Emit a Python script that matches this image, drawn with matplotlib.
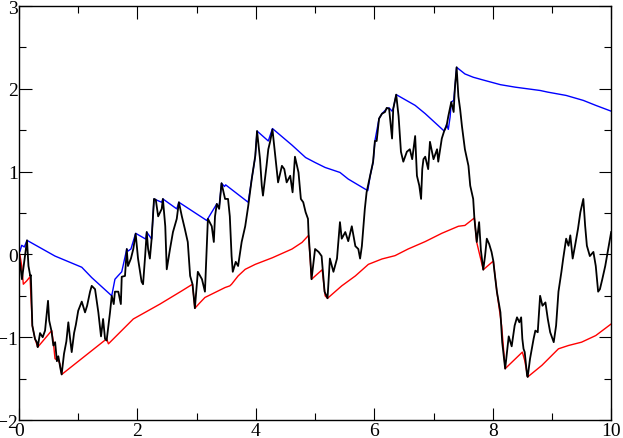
import matplotlib
matplotlib.use("Agg")
import matplotlib.pyplot as plt
from matplotlib.ticker import MultipleLocator

# trajectoire
path_x = [0.00, 0.05, 0.10, 0.135, 0.16, 0.19, 0.20, 0.225, 0.25, 0.27, 0.30, 0.316,
          0.355, 0.40, 0.44, 0.49, 0.51, 0.55, 0.58, 0.61, 0.64, 0.664, 0.70, 0.72,
          0.76, 0.80, 0.833, 0.86, 0.89, 0.93, 0.96, 1.00, 1.06, 1.115, 1.15, 1.20,
          1.228, 1.284, 1.34, 1.385, 1.42, 1.453, 1.48, 1.537, 1.566, 1.60, 1.62, 1.677,
          1.72, 1.735, 1.79, 1.82, 1.84, 1.89, 1.93, 1.97, 2.01, 2.07, 2.095, 2.13,
          2.157, 2.18, 2.21, 2.24, 2.28, 2.31, 2.35, 2.41, 2.43, 2.47, 2.495, 2.55,
          2.60, 2.664, 2.70, 2.75, 2.80, 2.85, 2.89, 2.93, 2.97, 3.02, 3.09, 3.14,
          3.17, 3.19, 3.255, 3.29, 3.31, 3.34, 3.38, 3.42, 3.48, 3.53, 3.56, 3.59,
          3.61, 3.66, 3.70, 3.76, 3.82, 3.87, 3.93, 3.99, 4.02, 4.07, 4.10, 4.12,
          4.18, 4.21, 4.24, 4.28, 4.32, 4.375, 4.44, 4.48, 4.52, 4.58, 4.62, 4.66,
          4.72, 4.76, 4.80, 4.84, 4.88, 4.89, 4.92, 4.94, 5.00, 5.06, 5.11, 5.16,
          5.21, 5.25, 5.31, 5.37, 5.42, 5.45, 5.51, 5.56, 5.62, 5.68, 5.73, 5.76,
          5.79, 5.84, 5.87, 5.93, 5.98, 6.01, 6.04, 6.08, 6.13, 6.18, 6.21, 6.25,
          6.30, 6.32, 6.37, 6.41, 6.45, 6.49, 6.55, 6.60, 6.64, 6.69, 6.72, 6.76,
          6.79, 6.81, 6.83, 6.86, 6.91, 6.94, 7.00, 7.06, 7.08, 7.14, 7.18, 7.22,
          7.25, 7.30, 7.34, 7.36, 7.39, 7.42, 7.45, 7.48, 7.53, 7.59, 7.62, 7.67,
          7.69, 7.73, 7.77, 7.80, 7.84, 7.87, 7.90, 7.94, 7.98, 8.01, 8.03, 8.07,
          8.13, 8.16, 8.21, 8.27, 8.32, 8.37, 8.41, 8.45, 8.48, 8.50, 8.52, 8.54,
          8.58, 8.59, 8.63, 8.69, 8.72, 8.76, 8.80, 8.84, 8.89, 8.93, 8.97, 9.03,
          9.07, 9.11, 9.16, 9.19, 9.24, 9.28, 9.31, 9.35, 9.39, 9.44, 9.48, 9.53,
          9.56, 9.59, 9.64, 9.70, 9.74, 9.78, 9.81, 9.85, 9.90, 9.95, 10.00]
path_y = [0.00, -0.30, -0.02, 0.17, -0.14, -0.26, -0.25, -0.86, -0.95, -1.02, -1.06, -1.12,
          -0.95, -1.00, -0.92, -0.56, -0.80, -0.93, -1.10, -1.06, -1.29, -1.23, -1.38, -1.45,
          -1.20, -1.05, -0.82, -1.00, -1.18, -0.95, -0.85, -0.68, -0.57, -0.70, -0.62, -0.45,
          -0.38, -0.42, -0.70, -0.99, -0.78, -1.02, -1.04, -0.70, -0.50, -0.60, -0.45, -0.45,
          -0.60, -0.27, -0.26, 0.065, -0.14, -0.05, 0.065, 0.25, -0.05, -0.33, -0.36, -0.02,
          0.27, 0.065, -0.05, 0.19, 0.67, 0.66, 0.46, 0.55, 0.67, 0.34, -0.18, 0.065,
          0.27, 0.43, 0.63, 0.46, 0.31, 0.15, -0.26, -0.36, -0.65, -0.21, -0.30, -0.45,
          0.065, 0.43, 0.34, 0.15, 0.46, 0.61, 0.55, 0.86, 0.67, 0.67, 0.46, -0.02,
          -0.21, -0.09, -0.14, 0.15, 0.34, 0.58, 0.91, 1.19, 1.49, 1.15, 0.83, 0.71,
          1.07, 1.27, 1.36, 1.51, 1.24, 0.87, 1.07, 1.03, 0.87, 0.95, 0.75, 1.18,
          0.99, 0.67, 0.63, 0.51, 0.43, 0.25, -0.06, -0.30, 0.065, 0.03, -0.02, -0.45,
          -0.53, -0.05, -0.21, -0.05, 0.39, 0.19, 0.27, 0.16, 0.34, 0.10, 0.065, -0.05,
          0.10, 0.55, 0.75, 0.95, 1.12, 1.37, 1.37, 1.64, 1.70, 1.72, 1.77, 1.76,
          1.40, 1.76, 1.93, 1.67, 1.24, 1.12, 1.24, 1.27, 1.15, 1.43, 0.95, 0.83,
          0.67, 1.03, 1.15, 1.18, 1.03, 1.36, 1.15, 1.27, 1.12, 1.40, 1.49, 1.55,
          1.67, 1.84, 1.72, 2.00, 2.26, 1.91, 1.75, 1.55, 1.27, 1.07, 0.83, 0.67,
          0.44, 0.15, 0.39, 0.05, -0.185, -0.02, 0.19, 0.125, 0.03, -0.08, -0.21, -0.45,
          -0.70, -1.06, -1.38, -0.99, -1.11, -0.86, -0.76, -0.82, -0.76, -1.02, -1.14, -1.18,
          -1.46, -1.48, -1.26, -1.02, -0.92, -0.94, -0.50, -0.62, -0.58, -0.78, -0.94, -1.06,
          -0.86, -0.45, -0.21, -0.05, 0.19, 0.105, 0.23, -0.05, 0.105, 0.31, 0.51, 0.67,
          0.35, 0.105, -0.02, 0.03, -0.14, -0.45, -0.42, -0.30, -0.14, 0.065, 0.27]

# enveloppe haute (bleu)
upper_x = [0.017, 0.046, 0.09, 0.135, 0.608, 1.06, 1.228, 1.566, 1.62, 1.67, 1.735, 1.82,
           1.84, 1.89, 1.97, 2.14, 2.157, 2.24, 2.28, 2.31, 2.41, 2.43, 2.664, 2.70,
           3.17, 3.255, 3.34, 3.38, 3.42, 3.47, 3.49, 3.87, 3.93, 3.99, 4.02, 4.21,
           4.28, 4.61, 4.84, 5.00, 5.17, 5.42, 5.56, 5.89, 5.93, 5.98, 6.01, 6.08,
           6.13, 6.21, 6.25, 6.30, 6.32, 6.37, 6.69, 6.86, 7.18, 7.22, 7.25, 7.28,
           7.30, 7.34, 7.36, 7.39, 7.53, 7.67, 7.82, 8.13, 8.38, 8.80, 8.93, 9.24,
           9.53, 9.74, 10.0]
upper_y = [0.04, 0.11, 0.09, 0.17, -0.02, -0.155, -0.28, -0.50, -0.30, -0.26, -0.21, 0.065,
           0.04, 0.065, 0.255, 0.185, 0.27, 0.185, 0.67, 0.66, 0.63, 0.67, 0.55, 0.63,
           0.41, 0.51, 0.61, 0.57, 0.86, 0.82, 0.84, 0.63, 0.91, 1.18, 1.49, 1.37,
           1.52, 1.32, 1.17, 1.11, 1.05, 0.99, 0.91, 0.77, 0.95, 1.11, 1.37, 1.64,
           1.70, 1.76, 1.77, 1.73, 1.76, 1.93, 1.80, 1.70, 1.49, 1.57, 1.51, 1.66,
           1.84, 1.86, 2.00, 2.26, 2.18, 2.14, 2.11, 2.05, 2.02, 1.98, 1.96, 1.92,
           1.86, 1.80, 1.73]

# enveloppe basse (rouge)
lower_x = [0.017, 0.046, 0.073, 0.13, 0.186, 0.225, 0.27, 0.316, 0.552, 0.58, 0.608, 0.664,
           0.69, 0.721, 1.48, 1.51, 1.93, 2.38, 2.75, 2.93, 2.97, 3.06, 3.14, 3.31,
           3.48, 3.56, 3.59, 3.70, 3.82, 3.99, 4.28, 4.61, 4.78, 4.89, 4.94, 5.12,
           5.17, 5.21, 5.45, 5.68, 5.90, 6.13, 6.35, 6.57, 6.86, 7.14, 7.42, 7.53,
           7.69, 7.73, 7.84, 8.01, 8.07, 8.15, 8.21, 8.50, 8.54, 8.59, 8.83, 9.11,
           9.28, 9.50, 9.74, 10.0]
lower_y = [-0.01, -0.14, -0.36, -0.32, -0.27, -0.86, -1.02, -1.12, -0.92, -1.06, -1.26, -1.28,
           -1.32, -1.45, -1.02, -1.08, -0.78, -0.60, -0.44, -0.36, -0.65, -0.58, -0.52, -0.46,
           -0.40, -0.38, -0.36, -0.26, -0.18, -0.12, -0.04, 0.065, 0.145, 0.23, -0.30, -0.185,
           -0.50, -0.53, -0.38, -0.26, -0.12, -0.055, -0.015, 0.065, 0.155, 0.255, 0.34, 0.35,
           0.44, 0.145, -0.185, -0.08, -0.45, -0.86, -1.38, -1.18, -1.28, -1.48, -1.34, -1.14,
           -1.10, -1.06, -0.98, -0.84]

plt.rcParams['font.family'] = ['Liberation Serif', 'DejaVu Serif']

fig = plt.figure(figsize=(6.23, 4.39), dpi=100)
ax = fig.add_axes([0.0305, 0.041, 0.9505, 0.943])

ax.plot(upper_x, upper_y, color='#0000ff', lw=1.0)
ax.plot(lower_x, lower_y, color='#ff0000', lw=1.0)
ax.plot(path_x, path_y, color='black', lw=1.3)

ax.set_xlim(0, 10)
ax.set_ylim(-2, 3)
ax.xaxis.set_major_locator(MultipleLocator(2))
ax.xaxis.set_minor_locator(MultipleLocator(1))
ax.yaxis.set_major_locator(MultipleLocator(1))
ax.yaxis.set_minor_locator(MultipleLocator(0.5))
ax.tick_params(which='both', direction='in', top=True, right=True, width=0.8,
               labelsize=14)
ax.tick_params(axis='x', pad=1.5)
ax.tick_params(axis='y', pad=1)
ax.tick_params(which='major', length=9)
ax.tick_params(which='minor', length=5)
for s in ax.spines.values():
    s.set_linewidth(1.0)

fig.savefig('out.png', dpi=100)
